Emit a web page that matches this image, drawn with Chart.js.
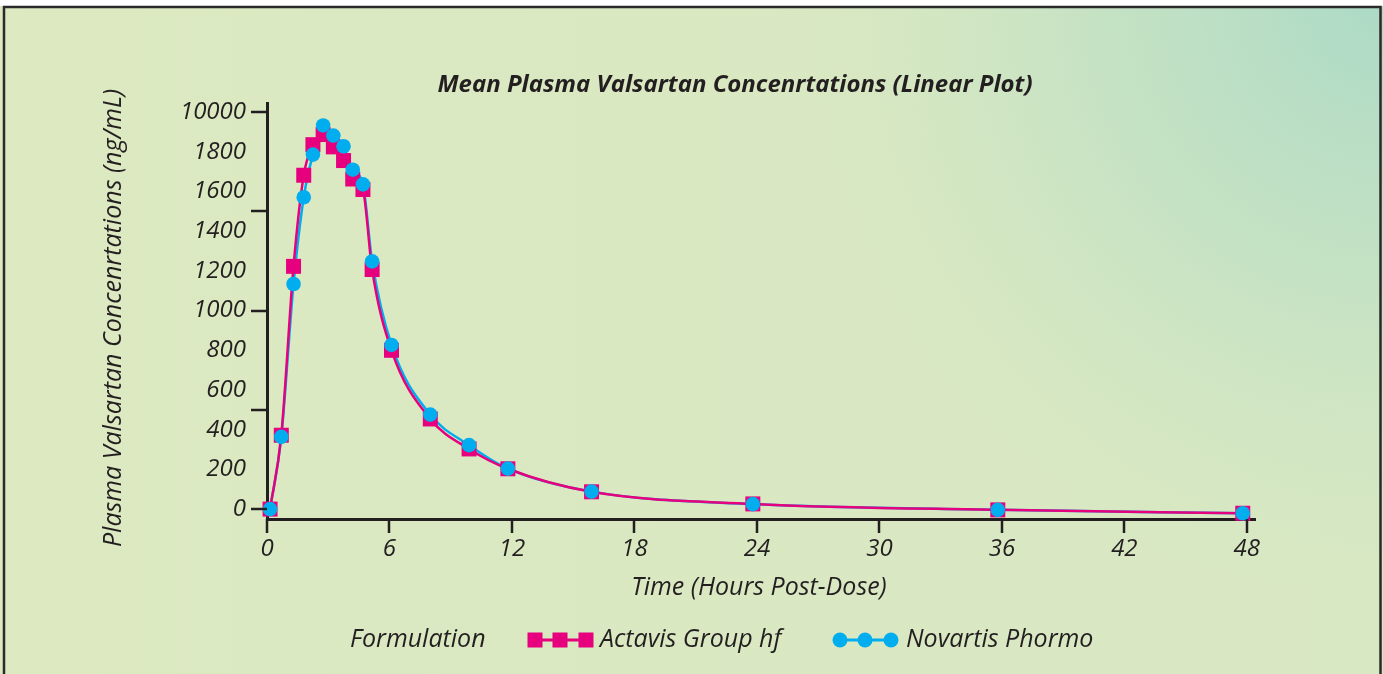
<!DOCTYPE html>
<html>
<head>
<meta charset="utf-8">
<script src="https://cdn.jsdelivr.net/npm/chart.js@4.4.1/dist/chart.umd.min.js"></script>
<style>
  html, body { margin: 0; padding: 0; background: #ffffff; }
  canvas { display: block; }
</style>
</head>
<body>
<canvas id="myChart" width="1383" height="674"></canvas>
<script>
// data
var hours = [0.15, 0.7, 1.3, 1.8, 2.25, 2.75, 3.25, 3.75, 4.2, 4.7, 5.15, 6.1, 8, 9.9, 11.8, 15.9, 23.8, 35.8, 47.8];
var actavis = [0, 372, 1223, 1682, 1836, 1887, 1825, 1756, 1663, 1610, 1207, 800, 454, 303, 203, 87, 26, -4, -21];
var novartis = [0, 364, 1134, 1571, 1786, 1933, 1882, 1828, 1710, 1636, 1248, 827, 476, 322, 204, 88, 25, -4, -21];

var xTicks = [0, 6, 12, 18, 24, 30, 36, 42, 48];
var yTicks = [0, 200, 400, 600, 800, 1000, 1200, 1400, 1600, 1800, 2000];
var yTickLabels = ["0", "200", "400", "600", "800", "1000", "1200", "1400", "1600", "1800", "10000"];
var yMarks = [0, 500, 1000, 1500, 2000];

var names = ["Actavis Group hf", "Novartis Phormo"];
var colors = ["#e6007e", "#00aeef"];
var ink = "#231f20";
var fam = "'Open Sans', sans-serif";

function points(ys) {
  return hours.map(function(h, i) { return { x: h, y: ys[i] }; });
}

// background, frame, titles, tick marks and legend
var decor = {
  id: 'decor',
  beforeDraw: function(chart) {
    var c = chart.ctx, w = chart.width, h = chart.height;
    c.save();
    var lin = c.createLinearGradient(0, 0, w, 0);
    lin.addColorStop(0, "#dce9c1");
    lin.addColorStop(1, "#d8e8c3");
    c.fillStyle = lin;
    c.fillRect(0, 0, w, h);
    var rad = c.createRadialGradient(w, 0, 0, w, 0, 660);
    rad.addColorStop(0, "rgba(172,218,198,1)");
    rad.addColorStop(0.45, "rgba(190,224,196,0.7)");
    rad.addColorStop(1, "rgba(216,232,194,0)");
    c.fillStyle = rad;
    c.fillRect(0, 0, w, h);
    c.fillStyle = "#ffffff";
    c.fillRect(0, 0, w, 6);
    c.strokeStyle = "#2a2a2a";
    c.lineWidth = 2.5;
    c.beginPath();
    c.moveTo(4, h);
    c.lineTo(4, 7);
    c.lineTo(w - 2.5, 7);
    c.lineTo(w - 2.5, h);
    c.stroke();
    c.restore();
  },
  afterDraw: function(chart) {
    var c = chart.ctx;
    var xs = chart.scales.x, ys = chart.scales.y;
    c.save();
    // tick marks
    c.strokeStyle = ink;
    c.lineWidth = 2.5;
    yMarks.forEach(function(v) {
      var p = Math.round(ys.getPixelForValue(v));
      c.beginPath();
      c.moveTo(251, p);
      c.lineTo(267, p);
      c.stroke();
    });
    xTicks.forEach(function(v) {
      var p = Math.round(xs.getPixelForValue(v));
      c.beginPath();
      c.moveTo(p, 519);
      c.lineTo(p, 533);
      c.stroke();
    });

    c.fillStyle = ink;
    c.textBaseline = "middle";
    // chart title
    c.font = "italic bold 24px " + fam;
    c.textAlign = "center";
    c.fillText("Mean Plasma Valsartan Concenrtations (Linear Plot)", 735, 85);
    // axis titles
    c.font = "italic 25px " + fam;
    c.fillText("Time (Hours Post-Dose)", 759, 588);
    c.save();
    c.translate(114, 318);
    c.rotate(-Math.PI / 2);
    c.fillText("Plasma Valsartan Concenrtations (ng/mL)", 0, 0);
    c.restore();

    // legend
    var ly = 640;
    c.textAlign = "left";
    c.fillText("Formulation", 350, ly);
    c.strokeStyle = colors[0];
    c.lineWidth = 3;
    c.beginPath(); c.moveTo(535, ly); c.lineTo(586, ly); c.stroke();
    c.fillStyle = colors[0];
    [535, 560, 586].forEach(function(x) { c.fillRect(x - 7.5, ly - 7.5, 15, 15); });
    c.fillStyle = ink;
    c.fillText(names[0], 600, ly);
    c.strokeStyle = colors[1];
    c.beginPath(); c.moveTo(840, ly); c.lineTo(891, ly); c.stroke();
    c.fillStyle = colors[1];
    [840, 865, 891].forEach(function(x) { c.beginPath(); c.arc(x, ly, 7.5, 0, Math.PI * 2); c.fill(); });
    c.fillStyle = ink;
    c.fillText(names[1], 906, ly);
    c.restore();
  }
};

var ctx = document.getElementById("myChart");

var chart = new Chart(ctx, {
  type: 'line',
  data: {
    datasets: [
      // lines first (blue under pink), then markers (squares under circles)
      { label: names[1], data: points(novartis), borderColor: colors[1], borderWidth: 2.5,
        pointRadius: 0, cubicInterpolationMode: 'monotone', fill: false, order: 4, clip: false },
      { label: names[0], data: points(actavis), borderColor: colors[0], borderWidth: 2.5,
        pointRadius: 0, cubicInterpolationMode: 'monotone', fill: false, order: 3, clip: false },
      { label: names[0], data: points(actavis), showLine: false, pointStyle: 'rect',
        pointRadius: 10.6, pointBackgroundColor: colors[0], pointBorderWidth: 0, order: 2, clip: false },
      { label: names[1], data: points(novartis), showLine: false, pointStyle: 'circle',
        pointRadius: 7.3, pointBackgroundColor: colors[1], pointBorderWidth: 0, order: 1, clip: false }
    ]
  },
  options: {
    responsive: false,
    animation: false,
    devicePixelRatio: 1,
    layout: { padding: { top: 103, right: 128, left: 0, bottom: 0 } },
    plugins: {
      legend: { display: false },
      title: { display: false },
      tooltip: { enabled: false }
    },
    scales: {
      x: {
        type: 'linear',
        min: 0,
        max: 48.4,
        afterBuildTicks: function(scale) { scale.ticks = xTicks.map(function(v) { return { value: v }; }); },
        afterFit: function(scale) { scale.height = 155; },
        grid: { display: false, tickLength: 13 },
        border: { display: true, color: ink, width: 3 },
        ticks: { color: ink, padding: 3, font: { family: fam, size: 24, style: 'italic' } }
      },
      y: {
        type: 'linear',
        min: -50,
        max: 2046,
        afterBuildTicks: function(scale) { scale.ticks = yTicks.map(function(v) { return { value: v }; }); },
        afterFit: function(scale) { scale.width = 267; },
        grid: { display: false, tickLength: 15 },
        border: { display: true, color: ink, width: 3 },
        ticks: {
          color: ink,
          padding: 6,
          font: { family: fam, size: 24, style: 'italic' },
          callback: function(value) { return yTickLabels[yTicks.indexOf(value)]; }
        }
      }
    }
  },
  plugins: [decor]
});
</script>
</body>
</html>
